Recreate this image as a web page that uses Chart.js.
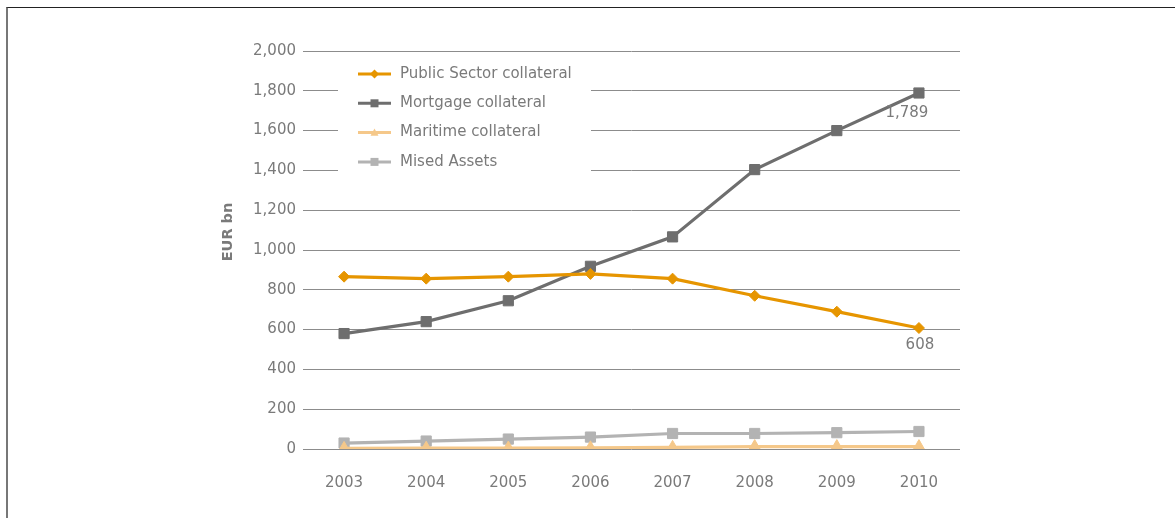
<!DOCTYPE html>
<html>
<head>
<meta charset="utf-8">
<script src="https://cdn.jsdelivr.net/npm/chart.js@4"></script>
<style>
  body { margin: 0; background: #fff; }
  #wrap { position: relative; width: 1175px; height: 518px; overflow: hidden; }
  #frame { position: absolute; left: 6px; top: 7px; right: -4px; bottom: -10px;
           border-top: 1px solid #222; border-left: 2px solid #777; pointer-events: none; }
</style>
</head>
<body>
<div id="wrap">
  <canvas id="chart" width="1175" height="518"></canvas>
  <div id="frame"></div>
</div>
<script>
// cover pool volumes, EUR bn
const years = ['2003', '2004', '2005', '2006', '2007', '2008', '2009', '2010'];
const publicSector = [866, 856, 866, 880, 856, 770, 690, 608];
const mortgage = [580, 640, 745, 918, 1066, 1404, 1600, 1789];
const maritime = [3, 4, 5, 6, 8, 12, 12, 12];
const mixedAssets = [30, 40, 50, 60, 78, 78, 82, 88];
const yTicks = [0, 200, 400, 600, 800, 1000, 1200, 1400, 1600, 1800, 2000];

const TEXT = '#7a7a7a';
Chart.defaults.font.family = "'DejaVu Sans', Verdana, sans-serif";
Chart.defaults.font.size = 15;
Chart.defaults.color = TEXT;

function fmt(v) { return v.toLocaleString('en-US'); }

function marker(ctx, style, x, y, r) {
  ctx.beginPath();
  if (style === 'rectRot') {
    ctx.moveTo(x - r, y); ctx.lineTo(x, y - r); ctx.lineTo(x + r, y); ctx.lineTo(x, y + r);
  } else if (style === 'triangle') {
    ctx.moveTo(x, y - r); ctx.lineTo(x + r, y + r * 0.8); ctx.lineTo(x - r, y + r * 0.8);
  } else {
    ctx.rect(x - r, y - r, 2 * r, 2 * r);
  }
  ctx.closePath();
  ctx.fill();
}

// white legend panel sitting over the gridlines, line + marker samples
const panelLegend = {
  id: 'panelLegend',
  beforeDatasetsDraw(chart) {
    const { ctx, chartArea } = chart;
    const x0 = chartArea.left + 35, y0 = chartArea.top + 5;
    ctx.save();
    ctx.fillStyle = '#fff';
    ctx.fillRect(x0, y0, 253, 124);
    chart.data.datasets.forEach((ds, i) => {
      const y = chartArea.top + 23 + i * 29.3;
      ctx.strokeStyle = ds.borderColor;
      ctx.lineWidth = 3;
      ctx.beginPath();
      ctx.moveTo(x0 + 20, y);
      ctx.lineTo(x0 + 53, y);
      ctx.stroke();
      ctx.fillStyle = ds.borderColor;
      marker(ctx, ds.pointStyle, x0 + 36.5, y, ds.pointStyle === 'rectRot' ? 4.5 : 4);
      ctx.fillStyle = TEXT;
      ctx.font = "15px 'DejaVu Sans'";
      ctx.textBaseline = 'middle';
      ctx.fillText(ds.label, x0 + 62, y);
    });
    ctx.restore();
  }
};

// value labels under the last point of the two main series
const endLabels = {
  id: 'endLabels',
  afterDatasetsDraw(chart) {
    const { ctx } = chart;
    const offsets = { 0: [1, 17], 1: [-12, 20] };
    ctx.save();
    ctx.fillStyle = TEXT;
    ctx.font = "15px 'DejaVu Sans'";
    ctx.textAlign = 'center';
    ctx.textBaseline = 'middle';
    Object.keys(offsets).forEach(k => {
      const i = Number(k);
      const data = chart.data.datasets[i].data;
      const pt = chart.getDatasetMeta(i).data[data.length - 1];
      ctx.fillText(fmt(data[data.length - 1]), pt.x + offsets[k][0], pt.y + offsets[k][1]);
    });
    ctx.restore();
  }
};

// rotated y axis caption
const axisCaption = {
  id: 'axisCaption',
  afterDraw(chart) {
    const { ctx, chartArea } = chart;
    ctx.save();
    ctx.translate(chartArea.left - 75, chartArea.top + 181);
    ctx.rotate(-Math.PI / 2);
    ctx.fillStyle = TEXT;
    ctx.font = "bold 14.5px 'DejaVu Sans'";
    ctx.textAlign = 'center';
    ctx.textBaseline = 'middle';
    ctx.fillText('EUR bn', 0, 0);
    ctx.restore();
  }
};

function series(label, data, color, style, radius) {
  return {
    label, data,
    borderColor: color, backgroundColor: color,
    pointBackgroundColor: color, pointBorderColor: color,
    pointStyle: style, pointRadius: radius, pointBorderWidth: 1,
    borderWidth: 3.2, tension: 0, fill: false
  };
}

new Chart(document.getElementById('chart'), {
  type: 'line',
  data: {
    labels: years,
    datasets: [
      series('Public Sector collateral', publicSector, '#e69500', 'rectRot', 5.5),
      series('Mortgage collateral', mortgage, '#6e6e6e', 'rect', 7.2),
      series('Maritime collateral', maritime, '#f5c88a', 'triangle', 7),
      series('Mised Assets', mixedAssets, '#b3b3b3', 'rect', 7.2)
    ]
  },
  options: {
    responsive: false,
    animation: false,
    layout: { padding: { left: 0, top: 51, right: 215, bottom: 0 } },
    plugins: { legend: { display: false }, tooltip: { enabled: false } },
    scales: {
      x: {
        offset: true,
        grid: { display: false, drawTicks: false },
        border: { display: false },
        ticks: { padding: 25, color: TEXT },
        afterFit(scale) { scale.height = 69; }
      },
      y: {
        min: 0, max: 2000,
        afterBuildTicks(scale) { scale.ticks = yTicks.map(v => ({ value: v })); },
        grid: { color: '#8c8c8c', lineWidth: 1, drawTicks: false },
        border: { display: false },
        ticks: { padding: 7, color: TEXT, callback: v => fmt(v) },
        afterFit(scale) { scale.width = 303; }
      }
    }
  },
  plugins: [panelLegend, endLabels, axisCaption]
});
</script>
</body>
</html>
